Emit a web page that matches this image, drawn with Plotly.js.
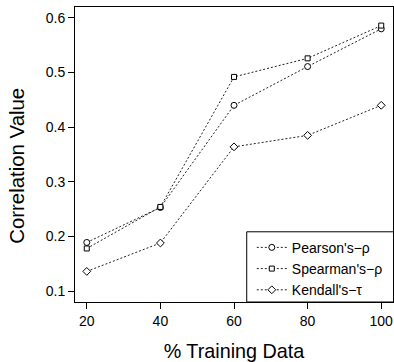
<!DOCTYPE html>
<html>
<head>
<meta charset="utf-8">
<script src="https://cdn.plot.ly/plotly-3.0.1.min.js"></script>
<style>html,body{margin:0;padding:0;background:#fff;}</style>
</head>
<body>
<div id="chart" style="width:394px;height:362px;"></div>
<script>
const trainingPct = [20, 40, 60, 80, 100];
const pearson = [0.189, 0.253, 0.440, 0.511, 0.580];
const spearman = [0.178, 0.254, 0.492, 0.526, 0.586];
const kendall = [0.136, 0.188, 0.364, 0.385, 0.440];
const seriesNames = ["Pearson's\u2212\u03c1", "Spearman's\u2212\u03c1", "Kendall's\u2212\u03c4"];
const xTicks = [20, 40, 60, 80, 100];
const yTicks = [0.1, 0.2, 0.3, 0.4, 0.5, 0.6];

const lineStyle = {color: '#222', width: 1, dash: '2px,2px'};
function mk(y, name, symbol, size) {
  return {
    x: trainingPct, y: y, name: name, type: 'scatter', mode: 'lines+markers',
    line: lineStyle,
    marker: {symbol: symbol, size: size, color: '#fff', line: {color: '#000', width: 1}}
  };
}
const data = [
  mk(pearson, seriesNames[0], 'circle', 6),
  mk(spearman, seriesNames[1], 'square', 5),
  mk(kendall, seriesNames[2], 'diamond', 6)
];

const font = {family: 'Liberation Sans, Arial, Helvetica, sans-serif', color: '#000'};
const layout = {
  width: 394, height: 362,
  margin: {l: 75, r: 1, t: 7, b: 60},
  paper_bgcolor: '#fff', plot_bgcolor: '#fff',
  font: Object.assign({size: 14}, font),
  showlegend: true,
  xaxis: {
    range: [16.8, 103.2], tickvals: xTicks, ticktext: xTicks.map(String),
    showgrid: false, zeroline: false, showline: true, mirror: true,
    linecolor: '#000', linewidth: 1, ticks: 'outside', ticklen: 6, tickcolor: '#000',
    tickfont: {size: 14}, automargin: false,
    title: {text: '% Training Data', font: {size: 19.8}, standoff: 20}
  },
  yaxis: {
    range: [0.08, 0.62], tickvals: yTicks, ticktext: yTicks.map(v => v.toFixed(1)),
    showgrid: false, zeroline: false, showline: true, mirror: true,
    linecolor: '#000', linewidth: 1, ticks: 'outside', ticklen: 6, tickcolor: '#000',
    tickfont: {size: 14}, automargin: false
  },
  annotations: [{
    text: 'Correlation Value', xref: 'paper', yref: 'paper',
    x: -0.182, y: 0.462, xanchor: 'center', yanchor: 'middle',
    textangle: -90, showarrow: false, font: {size: 20.4}
  }],
  legend: {
    x: 0.556, y: 0.238, xanchor: 'left', yanchor: 'top',
    bgcolor: 'rgba(0,0,0,0)', borderwidth: 0,
    font: {size: 14}, tracegroupgap: 0, itemwidth: 30
  },
  shapes: [{
    type: 'rect', xref: 'paper', yref: 'paper',
    x0: 0.54, x1: 1.05, y0: 0, y1: 0.238,
    line: {color: '#000', width: 1}, fillcolor: 'rgba(0,0,0,0)'
  }]
};
Plotly.newPlot('chart', data, layout, {staticPlot: true, displayModeBar: false});
</script>
</body>
</html>
